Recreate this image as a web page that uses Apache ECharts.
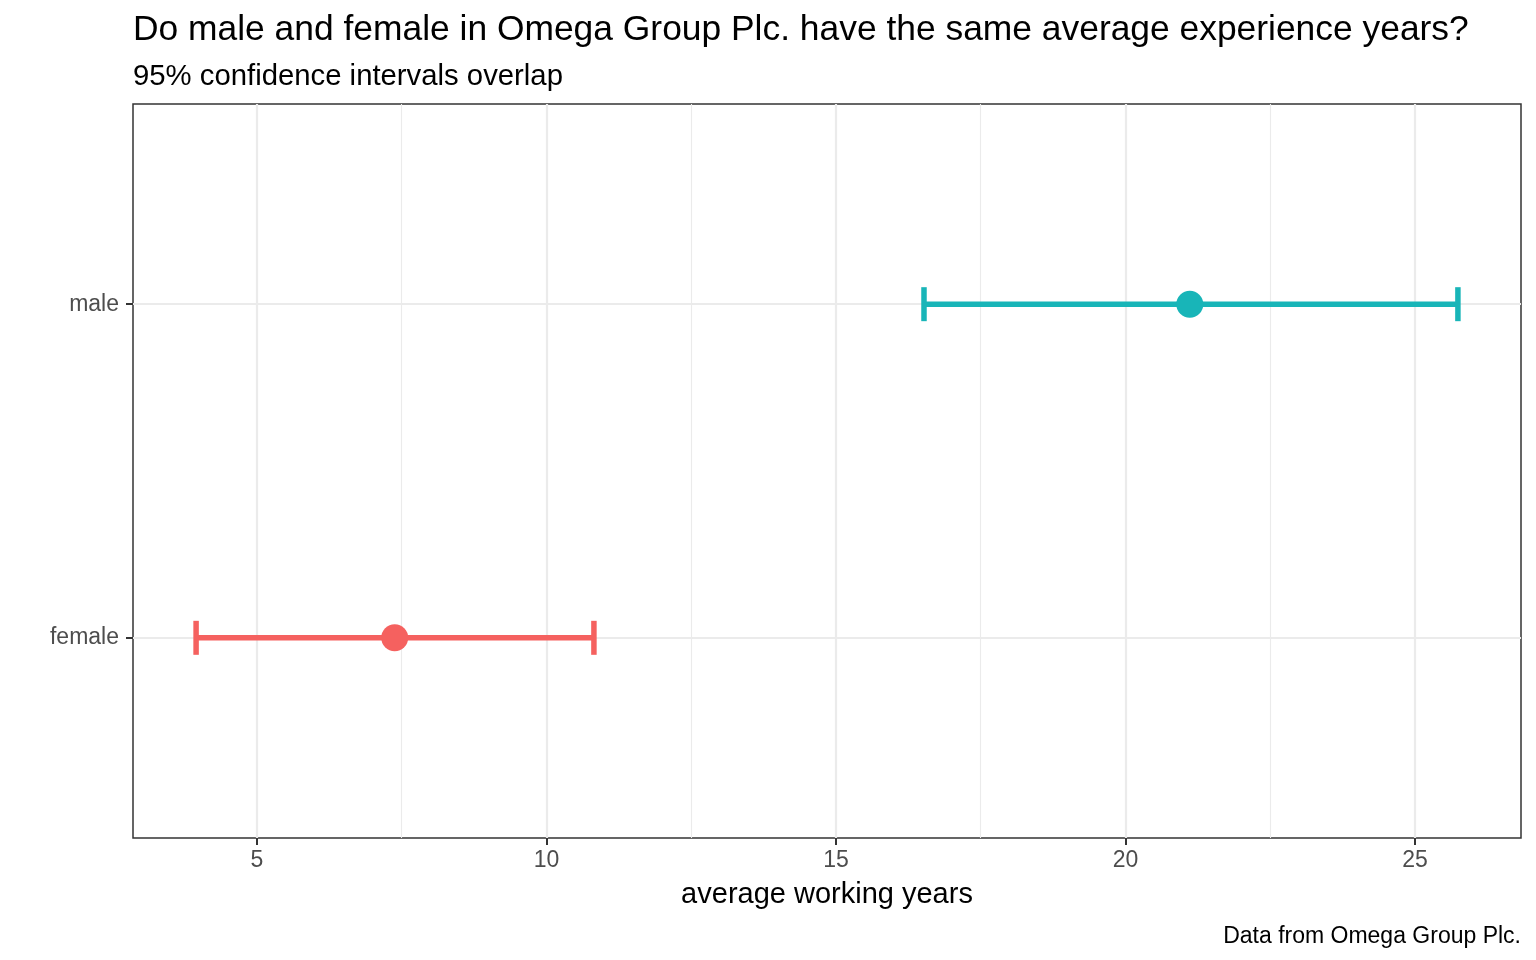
<!DOCTYPE html>
<html>
<head>
<meta charset="utf-8">
<script src="https://cdn.jsdelivr.net/npm/echarts@6/dist/echarts.min.js"></script>
<style>
  html, body { margin: 0; padding: 0; background: #fff; }
  #chart { width: 1536px; height: 960px; }
</style>
</head>
<body>
<div id="chart"></div>
<script>
// groups on the y axis (bottom to top) and their 95% CI
var groups = ['female', 'male'];
var means = [7.38, 21.11];
var lower = [3.95, 16.52];
var upper = [10.82, 25.74];
var xTicks = [5, 10, 15, 20, 25];
var xMinorTicks = [7.5, 12.5, 17.5, 22.5];

var groupColors = ['#F5615F', '#18B5B8'];
var font = 'Liberation Sans, Arial, Helvetica, sans-serif';

// ggplot-like 5% expansion of the x range
var lo = Math.min.apply(null, lower), hi = Math.max.apply(null, upper);
var pad = (hi - lo) * 0.05;

var barData = [], pointData = [];
for (var i = 0; i < groups.length; i++) {
    barData.push({ value: [lower[i], upper[i], i + 1], itemStyle: { color: groupColors[i] } });
    pointData.push({ value: [means[i], i + 1], itemStyle: { color: groupColors[i], opacity: 1 } });
}

var dom = document.getElementById('chart');
var myChart = echarts.init(dom, null, { renderer: 'canvas' });

var option = {
    animation: false,
    backgroundColor: '#fff',
    textStyle: { fontFamily: font },
    title: [
        {
            text: 'Do male and female in Omega Group Plc. have the same average experience years?',
            left: 128, top: 8,
            textStyle: { fontSize: 35.4, fontWeight: 'normal', color: '#000', fontFamily: font }
        },
        {
            text: '95% confidence intervals overlap',
            left: 128, top: 57,
            textStyle: { fontSize: 29.3, fontWeight: 'normal', color: '#000', fontFamily: font }
        },
        {
            text: 'Data from Omega Group Plc.',
            right: 10, top: 920,
            textStyle: { fontSize: 23, fontWeight: 'normal', color: '#000', fontFamily: font }
        }
    ],
    grid: {
        left: 133, right: 15, top: 104, bottom: 122,
        show: true, borderColor: '#333', borderWidth: 1.5, backgroundColor: '#fff'
    },
    xAxis: [
        {
            type: 'value',
            min: lo - pad, max: hi + pad,
            name: 'average working years',
            nameLocation: 'middle',
            nameGap: 42,
            nameTextStyle: { fontSize: 29, color: '#000', fontFamily: font },
            axisLine: { show: false },
            axisTick: { show: true, customValues: xTicks, length: 7, lineStyle: { color: '#333', width: 2 } },
            axisLabel: { customValues: xTicks, fontSize: 23, color: '#4D4D4D', margin: 11, fontFamily: font },
            splitLine: { show: true, lineStyle: { color: '#EBEBEB', width: 2.2 } }
        },
        {
            type: 'value',
            min: lo - pad, max: hi + pad,
            position: 'bottom',
            axisLine: { show: false },
            axisTick: { show: false, customValues: xMinorTicks },
            axisLabel: { show: false, customValues: xMinorTicks },
            splitLine: { show: true, lineStyle: { color: '#EBEBEB', width: 1.1 } }
        }
    ],
    yAxis: {
        type: 'value',
        min: 0.4, max: 2.6,
        axisLine: { show: false },
        axisTick: { show: true, customValues: [1, 2], length: 7, lineStyle: { color: '#333', width: 2 } },
        axisLabel: {
            customValues: [1, 2], fontSize: 23, color: '#4D4D4D', margin: 14, fontFamily: font,
            formatter: function (v) { return groups[Math.round(v) - 1]; }
        },
        splitLine: { show: true, lineStyle: { color: '#EBEBEB', width: 2.2 } }
    },
    series: [
        {
            type: 'custom',
            xAxisIndex: 0,
            data: barData,
            renderItem: function (params, api) {
                var a = api.coord([api.value(0), api.value(2)]);
                var b = api.coord([api.value(1), api.value(2)]);
                var h = 17;
                var style = { stroke: api.visual('color'), lineWidth: 5.5, lineCap: 'butt' };
                return {
                    type: 'group',
                    children: [
                        { type: 'line', shape: { x1: a[0], y1: a[1], x2: b[0], y2: b[1] }, style: style },
                        { type: 'line', shape: { x1: a[0], y1: a[1] - h, x2: a[0], y2: a[1] + h }, style: style },
                        { type: 'line', shape: { x1: b[0], y1: b[1] - h, x2: b[0], y2: b[1] + h }, style: style }
                    ]
                };
            }
        },
        {
            type: 'scatter',
            xAxisIndex: 0,
            symbol: 'circle',
            symbolSize: 27,
            itemStyle: { opacity: 1 },
            data: pointData
        }
    ]
};
myChart.setOption(option);
</script>
</body>
</html>
